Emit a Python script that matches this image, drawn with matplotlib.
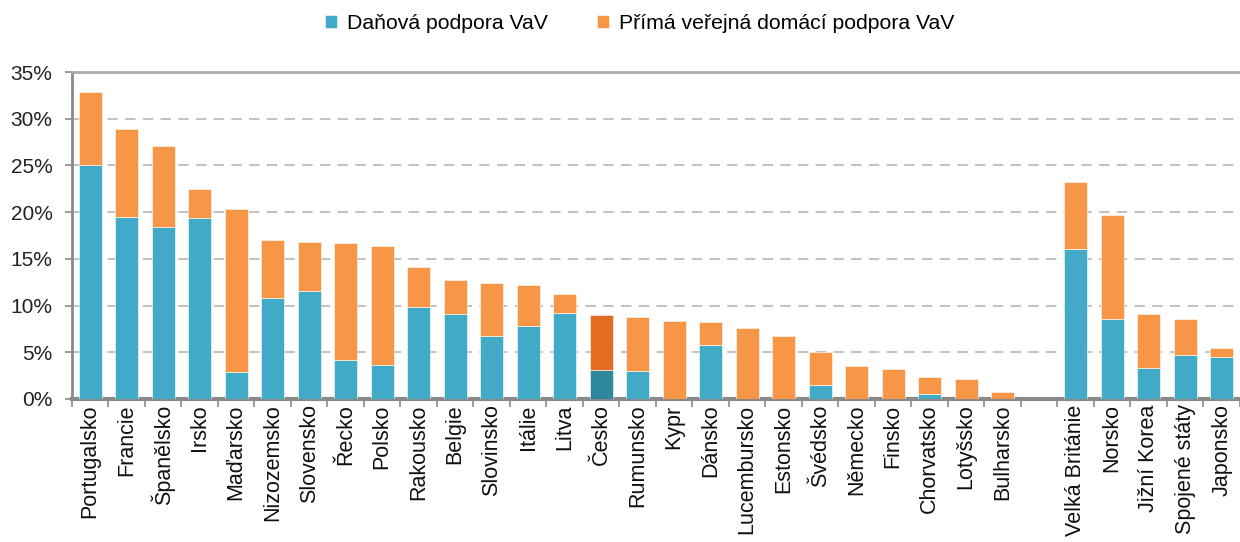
import matplotlib
matplotlib.use('Agg')
import matplotlib.pyplot as plt
import numpy as np

plt.rcParams['font.family'] = ['Liberation Sans', 'DejaVu Sans']

# Countries (EU first, then a gap, then non-EU)
eu_countries = ['Portugalsko', 'Francie', 'Španělsko', 'Irsko', 'Maďarsko', 'Nizozemsko',
                'Slovensko', 'Řecko', 'Polsko', 'Rakousko', 'Belgie', 'Slovinsko', 'Itálie',
                'Litva', 'Česko', 'Rumunsko', 'Kypr', 'Dánsko', 'Lucembursko', 'Estonsko',
                'Švédsko', 'Německo', 'Finsko', 'Chorvatsko', 'Lotyšsko', 'Bulharsko']
other_countries = ['Velká Británie', 'Norsko', 'Jižní Korea', 'Spojené státy', 'Japonsko']

# tax support (%) and total (%)
eu_tax = [25.1, 19.5, 18.4, 19.4, 2.85, 10.8, 11.6, 4.2, 3.6, 9.8, 9.1, 6.7, 7.8,
          9.2, 3.1, 2.95, 0.0, 5.75, 0.0, 0.0, 1.45, 0.0, 0.0, 0.5, 0.0, 0.0]
eu_total = [32.9, 28.9, 27.1, 22.5, 20.3, 17.0, 16.8, 16.7, 16.4, 14.1, 12.7, 12.4, 12.2,
            11.2, 9.0, 8.8, 8.3, 8.2, 7.6, 6.7, 5.0, 3.5, 3.2, 2.4, 2.1, 0.75]
other_tax = [16.1, 8.6, 3.35, 4.65, 4.5]
other_total = [23.2, 19.7, 9.1, 8.6, 5.5]

highlight = 'Česko'

teal = '#41abc7'
orange = '#f79646'
teal_dark = '#2c879f'
orange_dark = '#e36c22'

labels = eu_countries + [''] + other_countries
tax = eu_tax + [0.0] + other_tax
total = eu_total + [0.0] + other_total
direct = [t - d for t, d in zip(total, tax)]
x = np.arange(len(labels))

fig = plt.figure(figsize=(12.4, 5.42), dpi=100)
ax = fig.add_axes([0.058, 0.264, 0.942, 0.603])

tax_colors = [teal_dark if l == highlight else teal for l in labels]
dir_colors = [orange_dark if l == highlight else orange for l in labels]
w = 0.63
ax.bar(x, tax, w, color=tax_colors, edgecolor='white', linewidth=0.4,
       label='Daňová podpora VaV', zorder=3)
ax.bar(x, direct, w, bottom=tax, color=dir_colors, edgecolor='white', linewidth=0.4,
       label='Přímá veřejná domácí podpora VaV', zorder=3)

ax.set_xlim(-0.5, len(labels) - 0.5)
ax.set_ylim(0, 35)
ax.set_yticks(np.arange(0, 36, 5))
ax.set_yticklabels([f'{v}%' for v in range(0, 36, 5)], fontsize=15, color='#222222')
ax.yaxis.grid(True, linestyle=(0, (5, 3.5)), color='#c3c3c3', linewidth=1.5, zorder=0)

ax.set_xticks(x)
ax.set_xticklabels(labels, rotation=90, fontsize=15.5, color='#111111', va='top')
ax.tick_params(axis='x', length=0, pad=4)
ax.set_xticks(np.arange(-0.5, len(labels), 1), minor=True)
ax.tick_params(axis='x', which='minor', length=6, width=1.2, color='#8a8a8a')
ax.tick_params(axis='y', length=5, width=1.2, color='#8a8a8a', pad=9)

for s in ['left', 'bottom']:
    ax.spines[s].set_color('#8a8a8a')
ax.spines['left'].set_linewidth(2)
ax.spines['bottom'].set_linewidth(3)
ax.spines['top'].set_color('#a9a9a9')
ax.spines['top'].set_linewidth(2)
ax.spines['right'].set_visible(False)

fig.legend(loc='upper center', bbox_to_anchor=(0.516, 1.01), ncol=2, frameon=False,
           fontsize=15.3, handlelength=0.55, handleheight=0.55, columnspacing=2.3,
           handletextpad=0.5)

fig.savefig('out.png', dpi=100)
